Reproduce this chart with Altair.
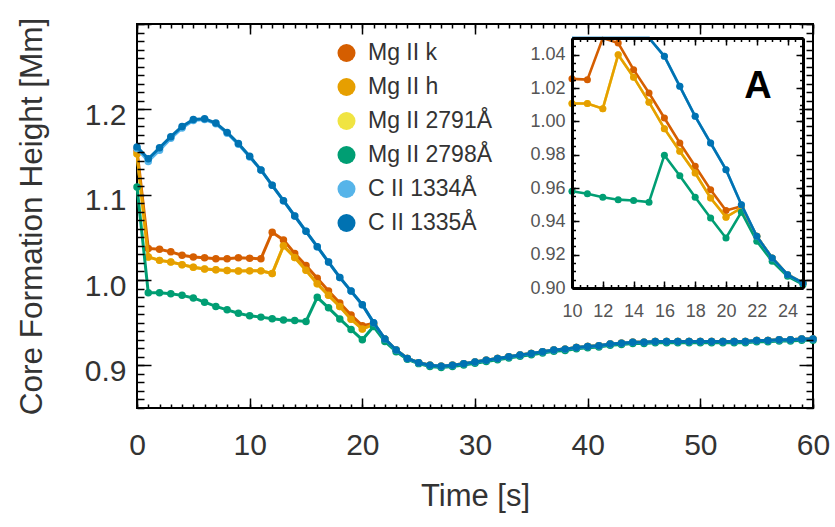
import altair as alt
import pandas as pd

# ---------------- data ----------------
time_s = list(range(61))

series_names = ["Mg II k", "Mg II h", "Mg II 2791Å", "Mg II 2798Å", "C II 1334Å", "C II 1335Å"]
series_colors = ["#D55E00", "#E69F00", "#F0E442", "#009E73", "#56B4E9", "#0072B2"]
draw_order = ["Mg II 2791Å", "Mg II k", "Mg II h", "Mg II 2798Å", "C II 1334Å", "C II 1335Å"]

c2_1335 = [1.156, 1.142, 1.155, 1.168, 1.180, 1.188, 1.189, 1.184, 1.173, 1.160,
           1.145, 1.129, 1.111, 1.093, 1.075, 1.057, 1.039, 1.021, 1.003, 0.987,
           0.971, 0.950, 0.931, 0.918, 0.908, 0.903, 0.900, 0.899, 0.900, 0.902,
           0.904, 0.906, 0.908, 0.910, 0.912, 0.914, 0.916, 0.918, 0.919, 0.921,
           0.922, 0.923, 0.925, 0.926, 0.927, 0.927, 0.928, 0.928, 0.928, 0.928,
           0.928, 0.928, 0.928, 0.928, 0.928, 0.929, 0.929, 0.930, 0.930, 0.931, 0.931]

c2_1334 = [1.154, 1.139, 1.152, 1.166, 1.178, 1.187, 1.188, 1.183, 1.172, 1.159,
           1.144, 1.129, 1.111, 1.093, 1.075, 1.057, 1.039, 1.021, 1.003, 0.987,
           0.971, 0.950, 0.931, 0.918, 0.908, 0.903, 0.900, 0.899, 0.900, 0.902,
           0.904, 0.906, 0.908, 0.910, 0.912, 0.914, 0.916, 0.918, 0.919, 0.921,
           0.922, 0.923, 0.925, 0.926, 0.927, 0.927, 0.928, 0.928, 0.928, 0.928,
           0.928, 0.928, 0.928, 0.928, 0.928, 0.929, 0.929, 0.930, 0.930, 0.931, 0.931]

mg_k = [1.152, 1.037, 1.036, 1.033, 1.029, 1.027, 1.026, 1.025, 1.025, 1.026,
        1.0255, 1.025, 1.056, 1.047, 1.031, 1.017, 1.002, 0.987, 0.973, 0.959,
        0.9465, 0.949, 0.931, 0.918, 0.908, 0.903, 0.900, 0.899, 0.900, 0.902,
        0.904, 0.906, 0.908, 0.910, 0.912, 0.914, 0.916, 0.918, 0.919, 0.921,
        0.922, 0.923, 0.925, 0.926, 0.927, 0.927, 0.928, 0.928, 0.928, 0.928,
        0.928, 0.928, 0.928, 0.928, 0.928, 0.929, 0.929, 0.930, 0.930, 0.931, 0.931]

mg_h = [1.148, 1.027, 1.023, 1.021, 1.018, 1.015, 1.013, 1.012, 1.011, 1.0105,
        1.0107, 1.0107, 1.0076, 1.040, 1.0265, 1.0115, 0.9956, 0.982, 0.969, 0.954,
        0.9425, 0.948, 0.931, 0.918, 0.908, 0.903, 0.900, 0.899, 0.900, 0.902,
        0.904, 0.906, 0.908, 0.910, 0.912, 0.914, 0.916, 0.918, 0.919, 0.921,
        0.922, 0.923, 0.925, 0.926, 0.927, 0.927, 0.928, 0.928, 0.928, 0.928,
        0.928, 0.928, 0.928, 0.928, 0.928, 0.929, 0.929, 0.930, 0.930, 0.931, 0.931]

mg_2791 = [1.148, 1.027, 1.023, 1.021, 1.018, 1.015, 1.013, 1.012, 1.011, 1.0105,
           1.0107, 1.0107, 1.0076, 1.040, 1.0265, 1.0115, 0.9956, 0.982, 0.969, 0.954,
           0.9425, 0.948, 0.931, 0.918, 0.908, 0.903, 0.900, 0.899, 0.900, 0.902,
           0.904, 0.906, 0.908, 0.910, 0.912, 0.914, 0.916, 0.918, 0.919, 0.921,
           0.922, 0.923, 0.925, 0.926, 0.927, 0.927, 0.928, 0.928, 0.928, 0.928,
           0.928, 0.928, 0.928, 0.928, 0.928, 0.929, 0.929, 0.930, 0.930, 0.931, 0.931]

mg_2798 = [1.109, 0.985, 0.985, 0.984, 0.982, 0.979, 0.974, 0.969, 0.965, 0.961,
           0.958, 0.9565, 0.9545, 0.953, 0.9525, 0.9515, 0.9797, 0.9674, 0.9544, 0.942,
           0.930, 0.9455, 0.928, 0.916, 0.907, 0.902, 0.8985, 0.8975, 0.8985, 0.9005,
           0.9025, 0.9045, 0.9065, 0.9085, 0.9105, 0.9125, 0.9145, 0.9165, 0.9175, 0.9195,
           0.9205, 0.9215, 0.9235, 0.9245, 0.9255, 0.9255, 0.9265, 0.9265, 0.9265, 0.9265,
           0.9265, 0.9265, 0.9265, 0.9265, 0.9265, 0.9275, 0.9275, 0.9285, 0.9285, 0.9295, 0.9295]

values_by_series = {
    "Mg II k": mg_k,
    "Mg II h": mg_h,
    "Mg II 2791Å": mg_2791,
    "Mg II 2798Å": mg_2798,
    "C II 1334Å": c2_1334,
    "C II 1335Å": c2_1335,
}

# axis tick / label values
main_x_labels = [0, 10, 20, 30, 40, 50, 60]
main_x_minor = list(range(0, 61))
main_y_labels = [0.9, 1.0, 1.1, 1.2]
main_y_major = [0.9, 1.0, 1.1, 1.2, 1.3]
main_y_minor = [round(0.85 + 0.01 * i, 2) for i in range(46)]
ins_x_labels = [10, 12, 14, 16, 18, 20, 22, 24]
ins_x_minor = [10 + 0.5 * i for i in range(31)]
ins_y_labels = [0.90, 0.92, 0.94, 0.96, 0.98, 1.00, 1.02, 1.04]
ins_y_minor = [round(0.90 + 0.005 * i, 3) for i in range(31)]

rows = []
for name in series_names:
    vals = values_by_series[name]
    assert len(vals) == len(time_s), name
    for t, v in zip(time_s, vals):
        rows.append({"series": name, "t": t, "v": v})
df = pd.DataFrame(rows)

# ---------------- layout ----------------
W, H = 676, 384
IX0, IX1, IY0, IY1 = 435, 666, 14, 264   # inset box within the plot area

main_x = alt.Scale(domain=[0, 60], nice=False, zero=False)
main_y = alt.Scale(domain=[0.85, 1.30], nice=False, zero=False)
ins_x = alt.Scale(domain=[10, 25], range=[IX0, IX1], nice=False, zero=False)
ins_y = alt.Scale(domain=[0.90, 1.05], range=[IY1, IY0], nice=False, zero=False, clamp=True)
color_scale = alt.Scale(domain=series_names, range=series_colors)

FONT = "Liberation Sans"

legend = alt.Legend(orient="none", legendX=198, legendY=17.5, title=None,
                    symbolType="circle", symbolSize=324, symbolStrokeWidth=0,
                    symbolOpacity=1, labelFontSize=23, labelColor="#333333",
                    labelFont=FONT, labelOffset=10, rowPadding=10, padding=0,
                    labelLimit=400)


def col():
    return alt.Color("series:N", scale=color_scale, legend=legend)


layers = []

# main panel (a point layer comes first so that the shared legend uses filled circles)
for name in draw_order:
    base = alt.Chart(df).transform_filter(alt.datum.series == name)
    pts = base.mark_circle(size=56, opacity=1).encode(
        x=alt.X("t:Q", scale=main_x, axis=None),
        y=alt.Y("v:Q", scale=main_y, axis=None),
        color=col())
    line = base.mark_line(strokeWidth=3).encode(
        x=alt.X("t:Q", scale=main_x, axis=None),
        y=alt.Y("v:Q", scale=main_y, axis=None),
        color=col())
    if not layers:
        layers += [pts, line]
    else:
        layers += [line, pts]

# inset panel
for name in draw_order:
    base = alt.Chart(df).transform_filter(
        (alt.datum.series == name) & (alt.datum.t >= 10) & (alt.datum.t <= 25))
    layers.append(base.mark_line(strokeWidth=2.6).encode(
        x=alt.X("t:Q", scale=ins_x, axis=None),
        y=alt.Y("v:Q", scale=ins_y, axis=None),
        color=col()))
    layers.append(base.transform_filter(alt.datum.v <= 1.05).mark_circle(size=50, opacity=1).encode(
        x=alt.X("t:Q", scale=ins_x, axis=None),
        y=alt.Y("v:Q", scale=ins_y, axis=None),
        color=col()))


def tick_axis(orient, offset, values, size, domain=False, dwidth=2):
    return alt.Axis(orient=orient, offset=offset, values=values, ticks=True,
                    tickSize=size, tickWidth=1.5, tickColor="black", labels=False,
                    domain=domain, domainColor="black", domainWidth=dwidth,
                    grid=False, title=None, zindex=1)


def guide(xs, ys, xaxis, yaxis, x0, y0):
    g = pd.DataFrame({"gx": [x0], "gy": [y0]})
    return alt.Chart(g).mark_point(opacity=0, size=0).encode(
        x=alt.X("gx:Q", scale=xs, axis=xaxis),
        y=alt.Y("gy:Q", scale=ys, axis=yaxis))


# main labels + titles
layers.append(guide(
    main_x, main_y,
    alt.Axis(orient="bottom", values=main_x_labels, format="d", ticks=False, tickSize=0,
             domain=False, grid=False, labelFontSize=30, labelColor="#333333",
             labelPadding=22, labelFlush=False, labelOverlap=False,
             title="Time [s]", titleFontSize=31, titleFontWeight="normal",
             titleColor="#333333", titleBaseline="middle", titleX=W / 2, titleY=88),
    alt.Axis(orient="left", values=main_y_labels, format=".1f", ticks=False, tickSize=0,
             domain=False, grid=False, labelFontSize=30, labelColor="#333333",
             labelPadding=11, labelOffset=6, labelOverlap=False,
             title="Core Formation Height [Mm]", titleFontSize=31.5,
             titleFontWeight="normal", titleColor="#333333", titleBaseline="middle",
             titleAlign="center", titleX=-105, titleY=H / 2),
    0, 1.0))
# main inward ticks
layers.append(guide(main_x, main_y,
                    tick_axis("top", -H, main_x_labels, 10),
                    tick_axis("right", -W, main_y_major, 14), 0, 1.0))
layers.append(guide(main_x, main_y,
                    tick_axis("top", -H, main_x_minor, 4),
                    tick_axis("right", -W, main_y_minor, 7), 0, 1.0))
layers.append(guide(main_x, main_y,
                    tick_axis("bottom", -H, main_x_labels, 10),
                    tick_axis("left", -W, main_y_major, 14), 0, 1.0))
layers.append(guide(main_x, main_y,
                    tick_axis("bottom", -H, main_x_minor, 4),
                    tick_axis("left", -W, main_y_minor, 7), 0, 1.0))

# inset labels
layers.append(guide(
    ins_x, ins_y,
    alt.Axis(orient="bottom", offset=IY1 - H, values=ins_x_labels, format="d", ticks=False,
             tickSize=0, domain=False, grid=False, labelFontSize=18, labelColor="#555555",
             labelPadding=14, labelFlush=False, labelOverlap=False, title=None),
    alt.Axis(orient="left", offset=-IX0, values=ins_y_labels, format=".2f", ticks=False,
             tickSize=0, domain=False, grid=False, labelFontSize=18, labelColor="#555555",
             labelPadding=7, labelOverlap=False, title=None),
    10, 0.95))
# inset inward ticks + frame
layers.append(guide(ins_x, ins_y,
                    tick_axis("top", -IY1, ins_x_labels, 7, True, 3),
                    tick_axis("right", IX0 - W, ins_y_labels, 7, True, 3), 10, 0.95))
layers.append(guide(ins_x, ins_y,
                    tick_axis("top", -IY1, ins_x_minor, 3.5),
                    tick_axis("right", IX0 - W, ins_y_minor, 3.5), 10, 0.95))
layers.append(guide(ins_x, ins_y,
                    tick_axis("bottom", IY0 - H, ins_x_labels, 7, True, 3),
                    tick_axis("left", -IX1, ins_y_labels, 7, True, 3), 10, 0.95))
layers.append(guide(ins_x, ins_y,
                    tick_axis("bottom", IY0 - H, ins_x_minor, 3.5),
                    tick_axis("left", -IX1, ins_y_minor, 3.5), 10, 0.95))

# panel letter
panel_label = pd.DataFrame({"label": ["A"]})
layers.append(alt.Chart(panel_label).mark_text(
    fontSize=38, fontWeight="bold", color="black", align="center", baseline="middle",
    font=FONT).encode(x=alt.value(621), y=alt.value(63), text="label:N"))

chart = (
    alt.layer(*layers)
    .resolve_scale(x="independent", y="independent")
    .resolve_axis(x="independent", y="independent")
    .properties(width=W, height=H,
                padding={"left": 137, "top": 24, "right": 22, "bottom": 119},
                autosize=alt.AutoSizeParams(type="none"))
    .configure(font=FONT)
    .configure_view(stroke="black", strokeWidth=2)
)

chart.save("out.html", embed_options={"renderer": "svg", "actions": False})
